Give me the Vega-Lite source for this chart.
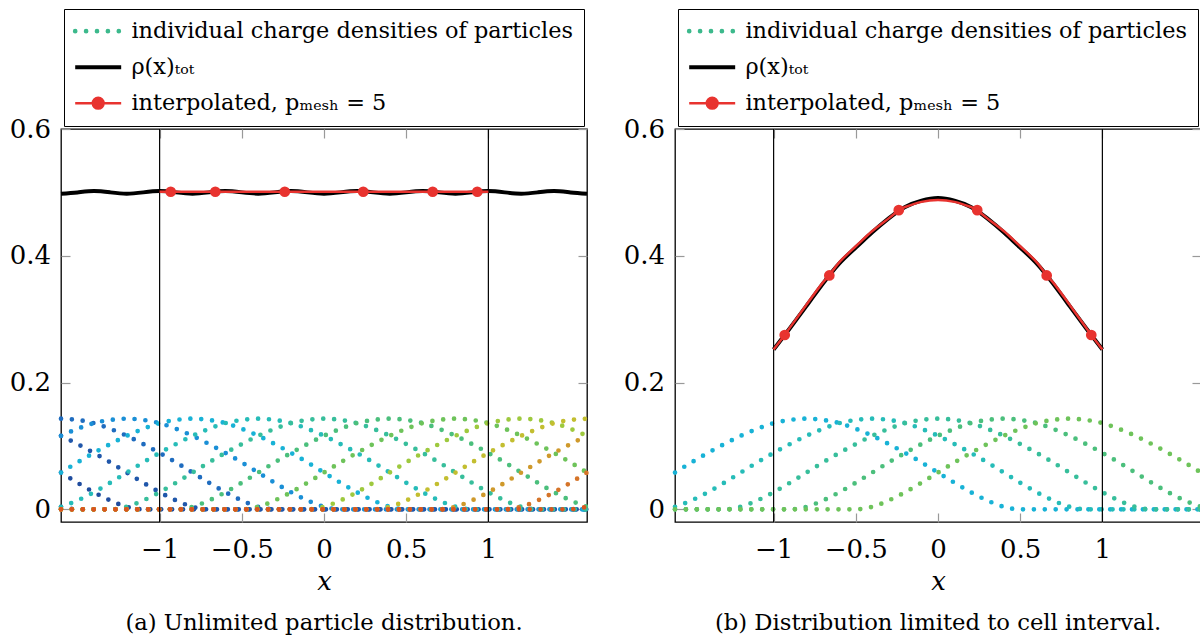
{
  "$schema": "https://vega.github.io/schema/vega-lite/v6.json",
  "padding": {"left": 8, "top": 7, "right": 0, "bottom": 0},
  "background": "white",
  "datasets": {
    "parts": [
      {"p":-2.8,"x":-1.6,"y":0.004},{"p":-2.8,"x":-1.5,"y":0},{"p":-2.8,"x":1.6,"y":0},
      {"p":-2.4,"x":-1.6,"y":0.058},{"p":-2.4,"x":-1.5,"y":0.042},{"p":-2.4,"x":-1.4,"y":0.027},{"p":-2.4,"x":-1.3,"y":0.014},{"p":-2.4,"x":-1.2,"y":0.004},{"p":-2.4,"x":-1.1,"y":0},{"p":-2.4,"x":1.6,"y":0},
      {"p":-2.0,"x":-1.6,"y":0.116},{"p":-2.0,"x":-1.5,"y":0.103},{"p":-2.0,"x":-1.4,"y":0.089},{"p":-2.0,"x":-1.3,"y":0.074},{"p":-2.0,"x":-1.2,"y":0.058},{"p":-2.0,"x":-1.1,"y":0.042},{"p":-2.0,"x":-1.0,"y":0.027},{"p":-2.0,"x":-0.9,"y":0.014},{"p":-2.0,"x":-0.8,"y":0.004},{"p":-2.0,"x":-0.7,"y":0},{"p":-2.0,"x":1.6,"y":0},
      {"p":-1.6,"x":-1.6,"y":0.143},{"p":-1.6,"x":-1.5,"y":0.141},{"p":-1.6,"x":-1.4,"y":0.136},{"p":-1.6,"x":-1.3,"y":0.127},{"p":-1.6,"x":-1.2,"y":0.116},{"p":-1.6,"x":-1.1,"y":0.103},{"p":-1.6,"x":-1.0,"y":0.089},{"p":-1.6,"x":-0.9,"y":0.074},{"p":-1.6,"x":-0.8,"y":0.058},{"p":-1.6,"x":-0.7,"y":0.042},{"p":-1.6,"x":-0.6,"y":0.027},{"p":-1.6,"x":-0.5,"y":0.014},{"p":-1.6,"x":-0.4,"y":0.004},{"p":-1.6,"x":-0.3,"y":0},{"p":-1.6,"x":1.6,"y":0},
      {"p":-1.2,"x":-1.6,"y":0.116},{"p":-1.2,"x":-1.5,"y":0.127},{"p":-1.2,"x":-1.4,"y":0.136},{"p":-1.2,"x":-1.3,"y":0.141},{"p":-1.2,"x":-1.2,"y":0.143},{"p":-1.2,"x":-1.1,"y":0.141},{"p":-1.2,"x":-1.0,"y":0.136},{"p":-1.2,"x":-0.9,"y":0.127},{"p":-1.2,"x":-0.8,"y":0.116},{"p":-1.2,"x":-0.7,"y":0.103},{"p":-1.2,"x":-0.6,"y":0.089},{"p":-1.2,"x":-0.5,"y":0.074},{"p":-1.2,"x":-0.4,"y":0.058},{"p":-1.2,"x":-0.3,"y":0.042},{"p":-1.2,"x":-0.2,"y":0.027},{"p":-1.2,"x":-0.1,"y":0.014},{"p":-1.2,"x":0,"y":0.004},{"p":-1.2,"x":0.1,"y":0},{"p":-1.2,"x":1.6,"y":0},
      {"p":-0.8,"x":-1.6,"y":0.058},{"p":-0.8,"x":-1.5,"y":0.074},{"p":-0.8,"x":-1.4,"y":0.089},{"p":-0.8,"x":-1.3,"y":0.103},{"p":-0.8,"x":-1.2,"y":0.116},{"p":-0.8,"x":-1.1,"y":0.127},{"p":-0.8,"x":-1.0,"y":0.136},{"p":-0.8,"x":-0.9,"y":0.141},{"p":-0.8,"x":-0.8,"y":0.143},{"p":-0.8,"x":-0.7,"y":0.141},{"p":-0.8,"x":-0.6,"y":0.136},{"p":-0.8,"x":-0.5,"y":0.127},{"p":-0.8,"x":-0.4,"y":0.116},{"p":-0.8,"x":-0.3,"y":0.103},{"p":-0.8,"x":-0.2,"y":0.089},{"p":-0.8,"x":-0.1,"y":0.074},{"p":-0.8,"x":0,"y":0.058},{"p":-0.8,"x":0.1,"y":0.042},{"p":-0.8,"x":0.2,"y":0.027},{"p":-0.8,"x":0.3,"y":0.014},{"p":-0.8,"x":0.4,"y":0.004},{"p":-0.8,"x":0.5,"y":0},{"p":-0.8,"x":1.6,"y":0},
      {"p":-0.4,"x":-1.6,"y":0.004},{"p":-0.4,"x":-1.5,"y":0.014},{"p":-0.4,"x":-1.4,"y":0.027},{"p":-0.4,"x":-1.3,"y":0.042},{"p":-0.4,"x":-1.2,"y":0.058},{"p":-0.4,"x":-1.1,"y":0.074},{"p":-0.4,"x":-1.0,"y":0.089},{"p":-0.4,"x":-0.9,"y":0.103},{"p":-0.4,"x":-0.8,"y":0.116},{"p":-0.4,"x":-0.7,"y":0.127},{"p":-0.4,"x":-0.6,"y":0.136},{"p":-0.4,"x":-0.5,"y":0.141},{"p":-0.4,"x":-0.4,"y":0.143},{"p":-0.4,"x":-0.3,"y":0.141},{"p":-0.4,"x":-0.2,"y":0.136},{"p":-0.4,"x":-0.1,"y":0.127},{"p":-0.4,"x":0,"y":0.116},{"p":-0.4,"x":0.1,"y":0.103},{"p":-0.4,"x":0.2,"y":0.089},{"p":-0.4,"x":0.3,"y":0.074},{"p":-0.4,"x":0.4,"y":0.058},{"p":-0.4,"x":0.5,"y":0.042},{"p":-0.4,"x":0.6,"y":0.027},{"p":-0.4,"x":0.7,"y":0.014},{"p":-0.4,"x":0.8,"y":0.004},{"p":-0.4,"x":0.9,"y":0},{"p":-0.4,"x":1.6,"y":0},
      {"p":0,"x":-1.6,"y":0},{"p":0,"x":-1.3,"y":0},{"p":0,"x":-1.2,"y":0.004},{"p":0,"x":-1.1,"y":0.014},{"p":0,"x":-1.0,"y":0.027},{"p":0,"x":-0.9,"y":0.042},{"p":0,"x":-0.8,"y":0.058},{"p":0,"x":-0.7,"y":0.074},{"p":0,"x":-0.6,"y":0.089},{"p":0,"x":-0.5,"y":0.103},{"p":0,"x":-0.4,"y":0.116},{"p":0,"x":-0.3,"y":0.127},{"p":0,"x":-0.2,"y":0.136},{"p":0,"x":-0.1,"y":0.141},{"p":0,"x":0,"y":0.143},{"p":0,"x":0.1,"y":0.141},{"p":0,"x":0.2,"y":0.136},{"p":0,"x":0.3,"y":0.127},{"p":0,"x":0.4,"y":0.116},{"p":0,"x":0.5,"y":0.103},{"p":0,"x":0.6,"y":0.089},{"p":0,"x":0.7,"y":0.074},{"p":0,"x":0.8,"y":0.058},{"p":0,"x":0.9,"y":0.042},{"p":0,"x":1.0,"y":0.027},{"p":0,"x":1.1,"y":0.014},{"p":0,"x":1.2,"y":0.004},{"p":0,"x":1.3,"y":0},{"p":0,"x":1.6,"y":0},
      {"p":0.4,"x":-1.6,"y":0},{"p":0.4,"x":-0.9,"y":0},{"p":0.4,"x":-0.8,"y":0.004},{"p":0.4,"x":-0.7,"y":0.014},{"p":0.4,"x":-0.6,"y":0.027},{"p":0.4,"x":-0.5,"y":0.042},{"p":0.4,"x":-0.4,"y":0.058},{"p":0.4,"x":-0.3,"y":0.074},{"p":0.4,"x":-0.2,"y":0.089},{"p":0.4,"x":-0.1,"y":0.103},{"p":0.4,"x":0,"y":0.116},{"p":0.4,"x":0.1,"y":0.127},{"p":0.4,"x":0.2,"y":0.136},{"p":0.4,"x":0.3,"y":0.141},{"p":0.4,"x":0.4,"y":0.143},{"p":0.4,"x":0.5,"y":0.141},{"p":0.4,"x":0.6,"y":0.136},{"p":0.4,"x":0.7,"y":0.127},{"p":0.4,"x":0.8,"y":0.116},{"p":0.4,"x":0.9,"y":0.103},{"p":0.4,"x":1.0,"y":0.089},{"p":0.4,"x":1.1,"y":0.074},{"p":0.4,"x":1.2,"y":0.058},{"p":0.4,"x":1.3,"y":0.042},{"p":0.4,"x":1.4,"y":0.027},{"p":0.4,"x":1.5,"y":0.014},{"p":0.4,"x":1.6,"y":0.004},
      {"p":0.8,"x":-1.6,"y":0},{"p":0.8,"x":-0.5,"y":0},{"p":0.8,"x":-0.4,"y":0.004},{"p":0.8,"x":-0.3,"y":0.014},{"p":0.8,"x":-0.2,"y":0.027},{"p":0.8,"x":-0.1,"y":0.042},{"p":0.8,"x":0,"y":0.058},{"p":0.8,"x":0.1,"y":0.074},{"p":0.8,"x":0.2,"y":0.089},{"p":0.8,"x":0.3,"y":0.103},{"p":0.8,"x":0.4,"y":0.116},{"p":0.8,"x":0.5,"y":0.127},{"p":0.8,"x":0.6,"y":0.136},{"p":0.8,"x":0.7,"y":0.141},{"p":0.8,"x":0.8,"y":0.143},{"p":0.8,"x":0.9,"y":0.141},{"p":0.8,"x":1.0,"y":0.136},{"p":0.8,"x":1.1,"y":0.127},{"p":0.8,"x":1.2,"y":0.116},{"p":0.8,"x":1.3,"y":0.103},{"p":0.8,"x":1.4,"y":0.089},{"p":0.8,"x":1.5,"y":0.074},{"p":0.8,"x":1.6,"y":0.058},
      {"p":1.2,"x":-1.6,"y":0},{"p":1.2,"x":-0.1,"y":0},{"p":1.2,"x":0,"y":0.004},{"p":1.2,"x":0.1,"y":0.014},{"p":1.2,"x":0.2,"y":0.027},{"p":1.2,"x":0.3,"y":0.042},{"p":1.2,"x":0.4,"y":0.058},{"p":1.2,"x":0.5,"y":0.074},{"p":1.2,"x":0.6,"y":0.089},{"p":1.2,"x":0.7,"y":0.103},{"p":1.2,"x":0.8,"y":0.116},{"p":1.2,"x":0.9,"y":0.127},{"p":1.2,"x":1.0,"y":0.136},{"p":1.2,"x":1.1,"y":0.141},{"p":1.2,"x":1.2,"y":0.143},{"p":1.2,"x":1.3,"y":0.141},{"p":1.2,"x":1.4,"y":0.136},{"p":1.2,"x":1.5,"y":0.127},{"p":1.2,"x":1.6,"y":0.116},
      {"p":1.6,"x":-1.6,"y":0},{"p":1.6,"x":0.3,"y":0},{"p":1.6,"x":0.4,"y":0.004},{"p":1.6,"x":0.5,"y":0.014},{"p":1.6,"x":0.6,"y":0.027},{"p":1.6,"x":0.7,"y":0.042},{"p":1.6,"x":0.8,"y":0.058},{"p":1.6,"x":0.9,"y":0.074},{"p":1.6,"x":1.0,"y":0.089},{"p":1.6,"x":1.1,"y":0.103},{"p":1.6,"x":1.2,"y":0.116},{"p":1.6,"x":1.3,"y":0.127},{"p":1.6,"x":1.4,"y":0.136},{"p":1.6,"x":1.5,"y":0.141},{"p":1.6,"x":1.6,"y":0.143},
      {"p":2.0,"x":-1.6,"y":0},{"p":2.0,"x":0.7,"y":0},{"p":2.0,"x":0.8,"y":0.004},{"p":2.0,"x":0.9,"y":0.014},{"p":2.0,"x":1.0,"y":0.027},{"p":2.0,"x":1.1,"y":0.042},{"p":2.0,"x":1.2,"y":0.058},{"p":2.0,"x":1.3,"y":0.074},{"p":2.0,"x":1.4,"y":0.089},{"p":2.0,"x":1.5,"y":0.103},{"p":2.0,"x":1.6,"y":0.116},
      {"p":2.4,"x":-1.6,"y":0},{"p":2.4,"x":1.1,"y":0},{"p":2.4,"x":1.2,"y":0.004},{"p":2.4,"x":1.3,"y":0.014},{"p":2.4,"x":1.4,"y":0.027},{"p":2.4,"x":1.5,"y":0.042},{"p":2.4,"x":1.6,"y":0.058},
      {"p":2.8,"x":-1.6,"y":0},{"p":2.8,"x":1.5,"y":0},{"p":2.8,"x":1.6,"y":0.004}
    ],
    "totA": [
      {"x":-1.6,"y":0.498},{"x":-1.5,"y":0.5},{"x":-1.4,"y":0.502},{"x":-1.3,"y":0.5},{"x":-1.2,"y":0.498},{"x":-1.1,"y":0.5},{"x":-1.0,"y":0.502},{"x":-0.9,"y":0.5},{"x":-0.8,"y":0.498},{"x":-0.7,"y":0.5},{"x":-0.6,"y":0.502},{"x":-0.5,"y":0.5},{"x":-0.4,"y":0.498},{"x":-0.3,"y":0.5},{"x":-0.2,"y":0.502},{"x":-0.1,"y":0.5},{"x":0,"y":0.498},{"x":0.1,"y":0.5},{"x":0.2,"y":0.502},{"x":0.3,"y":0.5},{"x":0.4,"y":0.498},{"x":0.5,"y":0.5},{"x":0.6,"y":0.502},{"x":0.7,"y":0.5},{"x":0.8,"y":0.498},{"x":0.9,"y":0.5},{"x":1.0,"y":0.502},{"x":1.1,"y":0.5},{"x":1.2,"y":0.498},{"x":1.3,"y":0.5},{"x":1.4,"y":0.502},{"x":1.5,"y":0.5},{"x":1.6,"y":0.498}
    ],
    "totB": [
      {"x":-1.0,"y":0.252},{"x":-0.9,"y":0.286},{"x":-0.8,"y":0.321},{"x":-0.7,"y":0.356},{"x":-0.6,"y":0.388},{"x":-0.5,"y":0.413},{"x":-0.4,"y":0.437},{"x":-0.3,"y":0.459},{"x":-0.2,"y":0.477},{"x":-0.1,"y":0.487},{"x":0,"y":0.491},{"x":0.1,"y":0.487},{"x":0.2,"y":0.477},{"x":0.3,"y":0.459},{"x":0.4,"y":0.437},{"x":0.5,"y":0.413},{"x":0.6,"y":0.388},{"x":0.7,"y":0.356},{"x":0.8,"y":0.321},{"x":0.9,"y":0.286},{"x":1.0,"y":0.252}
    ],
    "redA": [
      {"x":-1.0,"y":0.501},{"x":-0.9325,"y":0.501},{"x":-0.6612,"y":0.501},{"x":-0.2386,"y":0.501},{"x":0.2386,"y":0.501},{"x":0.6612,"y":0.501},{"x":0.9325,"y":0.501},{"x":1.0,"y":0.501}
    ],
    "nodesA": [
      {"x":-0.9325,"y":0.501},{"x":-0.6612,"y":0.501},{"x":-0.2386,"y":0.501},{"x":0.2386,"y":0.501},{"x":0.6612,"y":0.501},{"x":0.9325,"y":0.501}
    ],
    "redB": [
      {"x":-1.0,"y":0.252},{"x":-0.9325,"y":0.275},{"x":-0.9,"y":0.287},{"x":-0.8,"y":0.323},{"x":-0.7,"y":0.358},{"x":-0.6612,"y":0.369},{"x":-0.6,"y":0.39},{"x":-0.5,"y":0.415},{"x":-0.4,"y":0.439},{"x":-0.3,"y":0.459},{"x":-0.2386,"y":0.472},{"x":-0.2,"y":0.477},{"x":-0.1,"y":0.485},{"x":0,"y":0.488},{"x":0.1,"y":0.485},{"x":0.2,"y":0.477},{"x":0.2386,"y":0.472},{"x":0.3,"y":0.459},{"x":0.4,"y":0.439},{"x":0.5,"y":0.415},{"x":0.6,"y":0.39},{"x":0.6612,"y":0.369},{"x":0.7,"y":0.358},{"x":0.8,"y":0.323},{"x":0.9,"y":0.287},{"x":0.9325,"y":0.275},{"x":1.0,"y":0.252}
    ],
    "nodesB": [
      {"x":-0.9325,"y":0.275},{"x":-0.6612,"y":0.369},{"x":-0.2386,"y":0.472},{"x":0.2386,"y":0.472},{"x":0.6612,"y":0.369},{"x":0.9325,"y":0.275}
    ],
    "vl": [{"x":-1},{"x":1}]
  },
  "spacing": 24,
  "resolve": {"scale": {"color": "independent", "stroke": "independent"}, "legend": {"color": "independent"}},
  "hconcat": [
    {
      "width": 526, "height": 393,
      "title": {"text": "(a) Unlimited particle distribution.", "orient": "bottom", "anchor": "middle", "font": "DejaVu Serif", "fontSize": 22.7, "fontWeight": "normal", "color": "black", "offset": 18},
      "layer": [
        {
          "data": {"name": "parts"},
          "mark": {"type": "line", "interpolate": "monotone", "strokeWidth": 4.7, "strokeDash": [0, 10.9], "strokeCap": "round"},
          "encoding": {
            "x": {"field": "x", "type": "quantitative", "scale": {"domain": [-1.6, 1.6], "nice": false, "zero": false},
                  "axis": {"orient": "bottom", "values": [-1, -0.5, 0, 0.5, 1], "format": "~g", "labelPadding": 23, "title": "x", "titlePadding": 6}},
            "y": {"field": "y", "type": "quantitative", "scale": {"domain": [-0.02, 0.6], "nice": false, "zero": false},
                  "axis": {"orient": "left", "values": [0, 0.2, 0.4, 0.6], "format": "~g", "labelPadding": 19.5, "title": null}},
            "stroke": {"field": "p", "type": "ordinal",
                       "scale": {"domain": [-2.8, -2.4, -2.0, -1.6, -1.2, -0.8, -0.4, 0, 0.4, 0.8, 1.2, 1.6, 2.0, 2.4, 2.8],
                                 "range": ["#1d4591", "#1f4c9e", "#2057aa", "#1f6cbf", "#1a8fd6", "#18b2d6", "#26bcb8", "#37be9b", "#4bbf7c", "#6ec35a", "#9ec93e", "#c3be30", "#cf992b", "#d57429", "#d9551f"]},
                       "legend": null}
          }
        },
        {
          "data": {"name": "vl"},
          "mark": {"type": "rule", "color": "black", "strokeWidth": 1.2},
          "encoding": {
            "x": {"field": "x", "type": "quantitative", "axis": {"orient": "top", "values": [-1, -0.5, 0, 0.5, 1], "labels": false, "title": null}}
          }
        },
        {
          "data": {"name": "totA"},
          "mark": {"type": "line", "interpolate": "natural", "strokeWidth": 4},
          "encoding": {
            "x": {"field": "x", "type": "quantitative", "axis": null},
            "y": {"field": "y", "type": "quantitative", "axis": {"orient": "right", "values": [0, 0.2, 0.4, 0.6], "labels": false, "title": null}},
            "color": {"datum": "ρ(x)ₜₒₜ", "type": "nominal",
                      "scale": {"domain": ["individual charge densities of particles", "ρ(x)ₜₒₜ", "interpolated, pₘₑₛₕ = 5"], "range": ["#3cb98c", "#000000", "#e8332f"]},
                      "legend": {"orient": "none", "legendX": 3, "legendY": -120, "title": null, "direction": "vertical",
                                 "strokeColor": "black", "fillColor": "white", "padding": 11,
                                 "symbolType": "M-1,0H3.18", "symbolSize": 484, "symbolStrokeWidth": 4,
                                 "labelOffset": 34, "labelFont": "DejaVu Serif", "labelFontSize": 22.4, "labelColor": "black", "labelLimit": 0,
                                 "rowPadding": 13,
                                 "encode": {"symbols": {"update": {
                                   "shape": {"signal": "datum.index === 2 ? 'M-1,0H3.18M1.58,0A0.49,0.49,0,1,1,0.6,0A0.49,0.49,0,1,1,1.58,0' : 'M-1,0H3.18'"},
                                   "strokeDash": {"signal": "datum.index === 0 ? [0, 10.9] : []"},
                                   "strokeWidth": {"signal": "datum.index === 2 ? 2.5 : (datum.index === 0 ? 4.7 : 4)"},
                                   "strokeCap": {"signal": "datum.index === 0 ? 'round' : 'butt'"},
                                   "fill": {"signal": "datum.index === 2 ? '#e8332f' : 'transparent'"},
                                   "opacity": {"value": 1}
                                 }}}}}
          }
        },
        {
          "data": {"name": "redA"},
          "mark": {"type": "line", "interpolate": "natural", "strokeWidth": 2.5, "color": "#e8332f"},
          "encoding": {
            "x": {"field": "x", "type": "quantitative", "axis": null},
            "y": {"field": "y", "type": "quantitative", "axis": null}
          }
        },
        {
          "data": {"name": "nodesA"},
          "mark": {"type": "point", "filled": true, "size": 115, "opacity": 1, "color": "#e8332f"},
          "encoding": {
            "x": {"field": "x", "type": "quantitative", "axis": null},
            "y": {"field": "y", "type": "quantitative", "axis": null}
          }
        }
      ]
    },
    {
      "width": 526, "height": 393,
      "title": {"text": "(b) Distribution limited to cell interval.", "orient": "bottom", "anchor": "middle", "font": "DejaVu Serif", "fontSize": 22.7, "fontWeight": "normal", "color": "black", "offset": 18},
      "layer": [
        {
          "data": {"name": "parts"},
          "transform": [{"filter": "abs(datum.p) < 0.85"}],
          "mark": {"type": "line", "interpolate": "monotone", "strokeWidth": 4.7, "strokeDash": [0, 10.9], "strokeCap": "round"},
          "encoding": {
            "x": {"field": "x", "type": "quantitative", "scale": {"domain": [-1.6, 1.6], "nice": false, "zero": false},
                  "axis": {"orient": "bottom", "values": [-1, -0.5, 0, 0.5, 1], "format": "~g", "labelPadding": 23, "title": "x", "titlePadding": 6}},
            "y": {"field": "y", "type": "quantitative", "scale": {"domain": [-0.02, 0.6], "nice": false, "zero": false},
                  "axis": {"orient": "left", "values": [0, 0.2, 0.4, 0.6], "format": "~g", "labelPadding": 19.5, "title": null}},
            "stroke": {"field": "p", "type": "ordinal",
                       "scale": {"domain": [-2.8, -2.4, -2.0, -1.6, -1.2, -0.8, -0.4, 0, 0.4, 0.8, 1.2, 1.6, 2.0, 2.4, 2.8],
                                 "range": ["#1d4591", "#1f4c9e", "#2057aa", "#1f6cbf", "#1a8fd6", "#18b2d6", "#26bcb8", "#37be9b", "#4bbf7c", "#6ec35a", "#9ec93e", "#c3be30", "#cf992b", "#d57429", "#d9551f"]},
                       "legend": null}
          }
        },
        {
          "data": {"name": "vl"},
          "mark": {"type": "rule", "color": "black", "strokeWidth": 1.2},
          "encoding": {
            "x": {"field": "x", "type": "quantitative", "axis": {"orient": "top", "values": [-1, -0.5, 0, 0.5, 1], "labels": false, "title": null}}
          }
        },
        {
          "data": {"name": "totB"},
          "mark": {"type": "line", "interpolate": "natural", "strokeWidth": 4},
          "encoding": {
            "x": {"field": "x", "type": "quantitative", "axis": null},
            "y": {"field": "y", "type": "quantitative", "axis": {"orient": "right", "values": [0, 0.2, 0.4, 0.6], "labels": false, "title": null}},
            "color": {"datum": "ρ(x)ₜₒₜ", "type": "nominal",
                      "scale": {"domain": ["individual charge densities of particles", "ρ(x)ₜₒₜ", "interpolated, pₘₑₛₕ = 5"], "range": ["#3cb98c", "#000000", "#e8332f"]},
                      "legend": {"orient": "none", "legendX": 3, "legendY": -120, "title": null, "direction": "vertical",
                                 "strokeColor": "black", "fillColor": "white", "padding": 11,
                                 "symbolType": "M-1,0H3.18", "symbolSize": 484, "symbolStrokeWidth": 4,
                                 "labelOffset": 34, "labelFont": "DejaVu Serif", "labelFontSize": 22.4, "labelColor": "black", "labelLimit": 0,
                                 "rowPadding": 13,
                                 "encode": {"symbols": {"update": {
                                   "shape": {"signal": "datum.index === 2 ? 'M-1,0H3.18M1.58,0A0.49,0.49,0,1,1,0.6,0A0.49,0.49,0,1,1,1.58,0' : 'M-1,0H3.18'"},
                                   "strokeDash": {"signal": "datum.index === 0 ? [0, 10.9] : []"},
                                   "strokeWidth": {"signal": "datum.index === 2 ? 2.5 : (datum.index === 0 ? 4.7 : 4)"},
                                   "strokeCap": {"signal": "datum.index === 0 ? 'round' : 'butt'"},
                                   "fill": {"signal": "datum.index === 2 ? '#e8332f' : 'transparent'"},
                                   "opacity": {"value": 1}
                                 }}}}}
          }
        },
        {
          "data": {"name": "redB"},
          "mark": {"type": "line", "interpolate": "natural", "strokeWidth": 2.5, "color": "#e8332f"},
          "encoding": {
            "x": {"field": "x", "type": "quantitative", "axis": null},
            "y": {"field": "y", "type": "quantitative", "axis": null}
          }
        },
        {
          "data": {"name": "nodesB"},
          "mark": {"type": "point", "filled": true, "size": 115, "opacity": 1, "color": "#e8332f"},
          "encoding": {
            "x": {"field": "x", "type": "quantitative", "axis": null},
            "y": {"field": "y", "type": "quantitative", "axis": null}
          }
        }
      ]
    }
  ],
  "config": {
    "view": {"stroke": "black", "strokeWidth": 1.3},
    "font": "DejaVu Serif",
    "axis": {
      "labelFont": "DejaVu Serif", "labelFontSize": 26, "labelColor": "black",
      "tickColor": "#999999", "tickSize": -9, "tickWidth": 1.2,
      "domain": false, "grid": false,
      "titleFont": "DejaVu Serif", "titleFontSize": 26, "titleFontWeight": "normal", "titleFontStyle": "italic", "titleColor": "black",
      "labelFlush": false, "labelOverlap": false, "labelBound": false
    }
  }
}
